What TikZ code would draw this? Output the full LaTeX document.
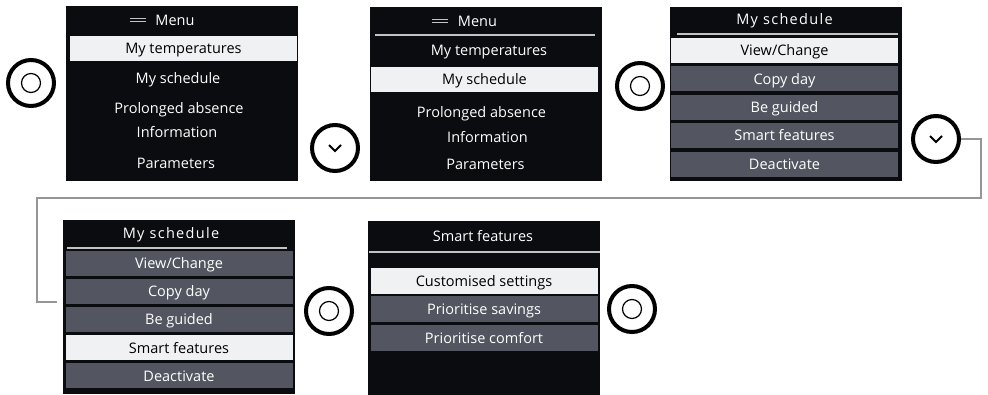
\documentclass[tikz,border=0pt]{standalone}
\usepackage{fontspec}
\setmainfont{Open Sans}
\usetikzlibrary{positioning}
\definecolor{scrblack}{RGB}{11,12,15}
\definecolor{itemgray}{RGB}{83,86,96}
\definecolor{selwhite}{RGB}{240,241,243}
\definecolor{sepgray}{RGB}{195,195,195}
\definecolor{lnkgray}{RGB}{150,150,150}

\begin{document}
\begin{tikzpicture}[x=1pt, y=-1pt, font=\fontsize{14.5}{17}\selectfont,
          scr/.style={fill=scrblack, minimum width=232pt, minimum height=174pt, inner sep=0pt},
          txt/.style={text=white, inner sep=0pt, text height=12pt, text depth=1.6pt},
          wd/.style={txt, font={\fontsize{14.5}{17}\selectfont\addfontfeature{LetterSpace=9}}},
          itm/.style={txt, fill=itemgray, minimum width=227pt, minimum height=25pt},
          sel/.style={itm, fill=selwhite, text=black},
          sep/.style={draw=sepgray, line width=1.5pt},
          icn/.style={draw=sepgray, line width=1.3pt},
          btn/.style={circle, draw=black, line width=4pt, minimum size=46pt, inner sep=0pt},
          okbtn/.style={btn, path picture={\draw[line width=1.2pt]
                        (path picture bounding box.center) circle (9.5pt);}},
          dnbtn/.style={btn, path picture={\draw[line width=2pt]
                        ([shift={(-6pt,3pt)}]path picture bounding box.center) -- ++(6pt,-6pt) -- ++(6pt,6pt);}},
          lnk/.style={draw=lnkgray, line width=2pt}]
        \useasboundingbox (0,0) rectangle (988,394);
        % screens
        \node[scr, minimum height=175pt] (p1) at (182,93.5) {};
        \node[scr] (p2) at (485.5,94) {};
        \node[scr] (p3) at (785.5,94) {};
        \node[scr] (p4) at (179,307) {};
        \node[scr] (p5) at (483.5,307.5) {};
        % main menu, first entry
        \node[txt] (m1) at (175,20) {Menu};
        \draw[icn] (130,18.5) -- (146,18.5) (130,21.5) -- (146,21.5);
        \node[sel] (p1a) at (183.5,48.5) {My temperatures};
        \node[txt] (p1b) at (178,78) {My schedule};
        \node[txt] (p1c) at (179,108) {Prolonged absence};
        \node[txt] (p1d) at (177,132) {Information};
        \node[txt] (p1e) at (176,163) {Parameters};
        % main menu, second entry
        \node[txt] (m2) at (477.5,21) {Menu};
        \draw[icn] (432,19.5) -- (448,19.5) (432,22.5) -- (448,22.5);
        \draw[sep] (375,35) -- (595,35);
        \node[txt] (p2a) at (489,50) {My temperatures};
        \node[sel] (p2b) at (484.5,79.5) {My schedule};
        \node[txt] (p2c) at (481.5,112) {Prolonged absence};
        \node[txt] (p2d) at (487.5,137) {Information};
        \node[txt] (p2e) at (485.5,164) {Parameters};
        % schedule menu
        \node[wd] (h3) at (784.5,19) {My schedule};
        \draw[sep] (677,34) -- (898,34);
        \node[sel] (p3a) at (784.5,50.5) {View/Change};
        \node[itm, below=3pt of p3a] (p3b) {Copy day};
        \node[itm, below=3pt of p3b] (p3c) {Be guided};
        \node[itm, below=3pt of p3c] (p3d) {Smart features};
        \node[itm, below=3pt of p3d] (p3e) {Deactivate};
        % schedule menu, smart features
        \node[wd] (h4) at (171,233) {My schedule};
        \draw[sep] (67,248) -- (287,248);
        \node[itm] (p4a) at (179,263.5) {View/Change};
        \node[itm, below=2.7pt of p4a] (p4b) {Copy day};
        \node[itm, below=2.7pt of p4b] (p4c) {Be guided};
        \node[sel, below=2.7pt of p4c] (p4d) {Smart features};
        \node[itm, below=2.7pt of p4d] (p4e) {Deactivate};
        % smart features menu
        \node[txt] (h5) at (483,236) {Smart features};
        \draw[sep] (369,252) -- (600,252);
        \node[sel, minimum height=26pt] (p5a) at (484,281) {Customised settings};
        \node[itm, minimum height=26pt, below=2pt of p5a] (p5b) {Prioritise savings};
        \node[itm, minimum height=26pt, below=2pt of p5b] (p5c) {Prioritise comfort};
        % buttons
        \node[okbtn] (b1) at (31,83) {};
        \node[dnbtn] (b2) at (335,148) {};
        \node[okbtn] (b3) at (640,86) {};
        \node[dnbtn] (b4) at (936,139) {};
        \node[okbtn] (b5) at (329,311) {};
        \node[okbtn] (b6) at (632,309) {};
        % wrap to second row
        \coordinate (k2) at (37,198);
        \coordinate (k3) at (57,302);
        \draw[lnk] (b4.east) -- ++(20,0) |- (k2) |- (k3);
      \end{tikzpicture}
\end{document}
